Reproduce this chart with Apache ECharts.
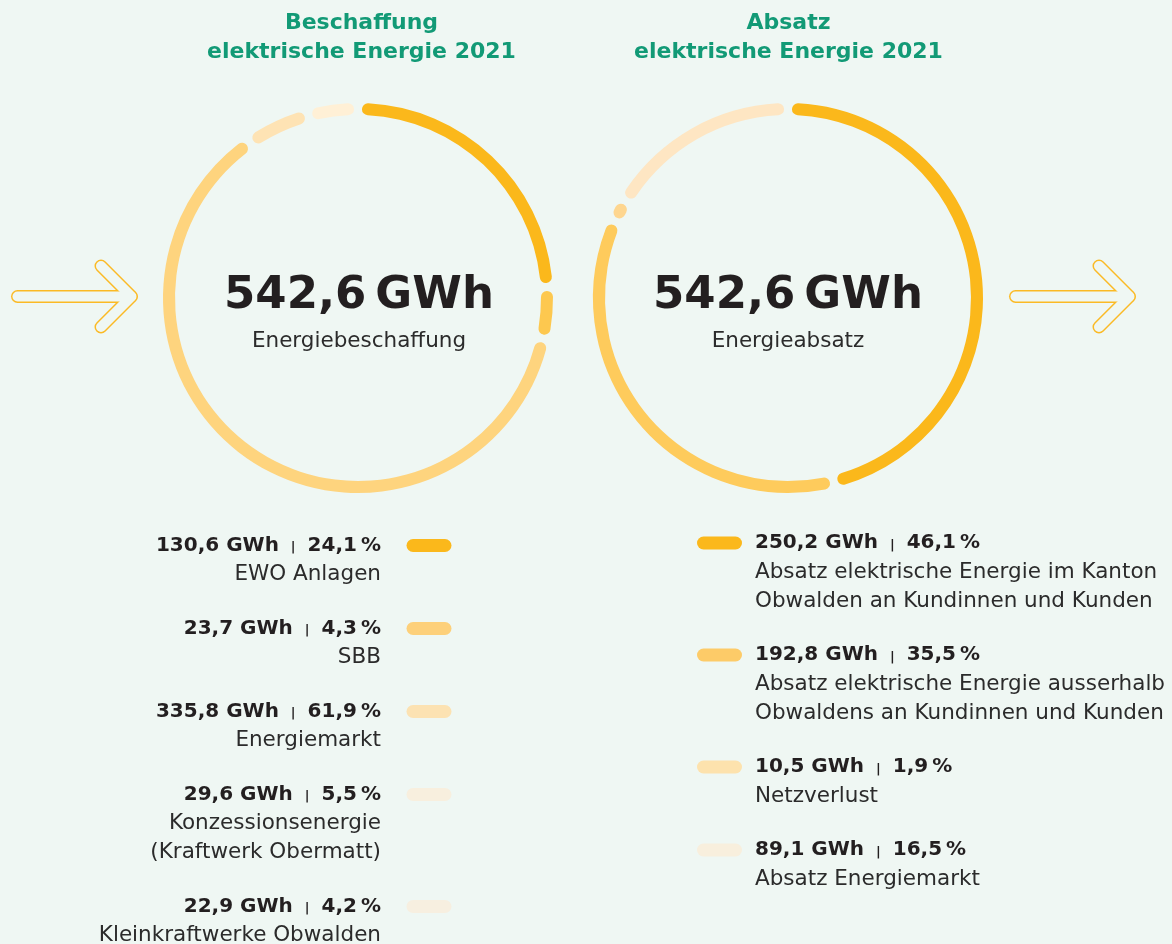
<!DOCTYPE html>
<html>
<head>
<meta charset="utf-8">
<style>
  html, body { margin: 0; padding: 0; background: #eff7f3; }
  #chart { width: 1172px; height: 944px; }
</style>
<script src="https://cdn.jsdelivr.net/npm/echarts@6/dist/echarts.min.js"></script>
</head>
<body>
<div id="chart"></div>
<script>
// Beschaffung (purchase)
const buyNames = ['EWO Anlagen', 'SBB', 'Energiemarkt', 'Konzessionsenergie\n(Kraftwerk Obermatt)', 'Kleinkraftwerke Obwalden'];
const buyGWh = [130.6, 23.7, 335.8, 29.6, 22.9];
const buyPct = [24.1, 4.3, 61.9, 5.5, 4.2];

// Absatz (sales)
const sellNames = ['Absatz elektrische Energie im Kanton\nObwalden an Kundinnen und Kunden', 'Absatz elektrische Energie ausserhalb\nObwaldens an Kundinnen und Kunden', 'Netzverlust', 'Absatz Energiemarkt'];
const sellGWh = [250.2, 192.8, 10.5, 89.1];
const sellPct = [46.1, 35.5, 1.9, 16.5];

const totalBuy = 542.6;
const totalSell = 542.6;

const buyRingColors = ['#fbb81b', '#fdc84f', '#fed47e', '#fee3b4', '#fff0d6'];
const buyLegendColors = ['#fbb81b', '#fdd07a', '#fce2b2', '#f8efde', '#f7efe0'];
const sellRingColors = ['#fbb81b', '#fecb5c', '#fed68f', '#fee6c3'];
const sellLegendColors = ['#fbb81b', '#fdcb68', '#fde2ad', '#f8efdd'];

const FONT = "'DejaVu Sans', sans-serif";
const BG = '#eff7f3';
const fmt = v => v.toFixed(1).replace('.', ',');

const chart = echarts.init(document.getElementById('chart'));

function ring(center, names, values, colors) {
    return {
        type: 'pie',
        center: center,
        radius: [183, 195],
        startAngle: 90,
        padAngle: 2.4,
        silent: true,
        label: { show: false },
        labelLine: { show: false },
        itemStyle: { borderRadius: 6 },
        data: values.map((v, i) => ({ name: names[i], value: v, itemStyle: { color: colors[i] } }))
    };
}

function arrow(dx) {
    const shaft = [[17.5 + dx, 296.5], [131 + dx, 296.5]];
    const head = [[101 + dx, 266], [131.5 + dx, 296.5], [101 + dx, 327]];
    const line = (pts, w, c) => ({
        type: 'polyline',
        shape: { points: pts },
        style: { stroke: c, lineWidth: w, lineCap: 'round', lineJoin: 'round', fill: null }
    });
    return [
        line(shaft, 13, '#fbba25'), line(head, 13, '#fbba25'),
        line(shaft, 10, BG), line(head, 10, BG)
    ];
}

function legend(names, gwh, pct, colors, side) {
    const els = [];
    const left = side === 'left';
    const textX = left ? 381 : 755;
    const swX = left ? 406.5 : 697;
    const align = left ? 'right' : 'left';
    let y = left ? 545.5 : 543;
    names.forEach((name, i) => {
        const lines = name.split('\n').length;
        els.push({
            type: 'rect',
            shape: { x: swX, y: y - 6.5, width: 45, height: 13, r: 6.5 },
            style: { fill: colors[i] }
        });
        els.push({
            type: 'text', x: textX, y: y,
            style: {
                text: '{v|' + fmt(gwh[i]) + ' GWh}{sep||}{v|' + fmt(pct[i]) + '\u2009%}',
                align: align, verticalAlign: 'middle',
                rich: {
                    v: { fontFamily: FONT, fontSize: 20, fontWeight: 'bold', fill: '#231f20' },
                    sep: { fontFamily: FONT, fontSize: 13, fontWeight: 'bold', fill: '#231f20', padding: [5, 12, 0, 12] }
                }
            }
        });
        els.push({
            type: 'text', x: textX, y: y + 14.5,
            style: {
                text: name, align: align, verticalAlign: 'top', lineHeight: 29,
                fontFamily: FONT, fontSize: 21.5, fill: '#2b2b2b'
            }
        });
        y += 29 * (lines + 1) + 25;
    });
    return els;
}

function title(x, text) {
    return {
        type: 'text', x: x, y: 38,
        style: {
            text: text, align: 'center', verticalAlign: 'middle', lineHeight: 29,
            fontFamily: FONT, fontSize: 22, fontWeight: 'bold', fill: '#129a76'
        }
    };
}

function centerLabel(x, total, sub) {
    return [
        {
            type: 'text', x: x, y: 296,
            style: {
                text: fmt(total) + '\u2009GWh', align: 'center', verticalAlign: 'middle',
                fontFamily: FONT, fontSize: 45, fontWeight: 'bold', fill: '#231f20'
            }
        },
        {
            type: 'text', x: x, y: 341,
            style: {
                text: sub, align: 'center', verticalAlign: 'middle',
                fontFamily: FONT, fontSize: 21.5, fill: '#2b2b2b'
            }
        }
    ];
}

chart.setOption({
    backgroundColor: BG,
    animation: false,
    series: [
        ring([358, 298], buyNames, buyGWh, buyRingColors),
        ring([788, 298], sellNames, sellGWh, sellRingColors)
    ],
    graphic: [
        title(361.5, 'Beschaffung\nelektrische Energie 2021'),
        title(788.5, 'Absatz\nelektrische Energie 2021'),
        ...centerLabel(359, totalBuy, 'Energiebeschaffung'),
        ...centerLabel(788, totalSell, 'Energieabsatz'),
        ...arrow(0),
        ...arrow(998),
        ...legend(buyNames, buyGWh, buyPct, buyLegendColors, 'left'),
        ...legend(sellNames, sellGWh, sellPct, sellLegendColors, 'right')
    ]
});
</script>
</body>
</html>
